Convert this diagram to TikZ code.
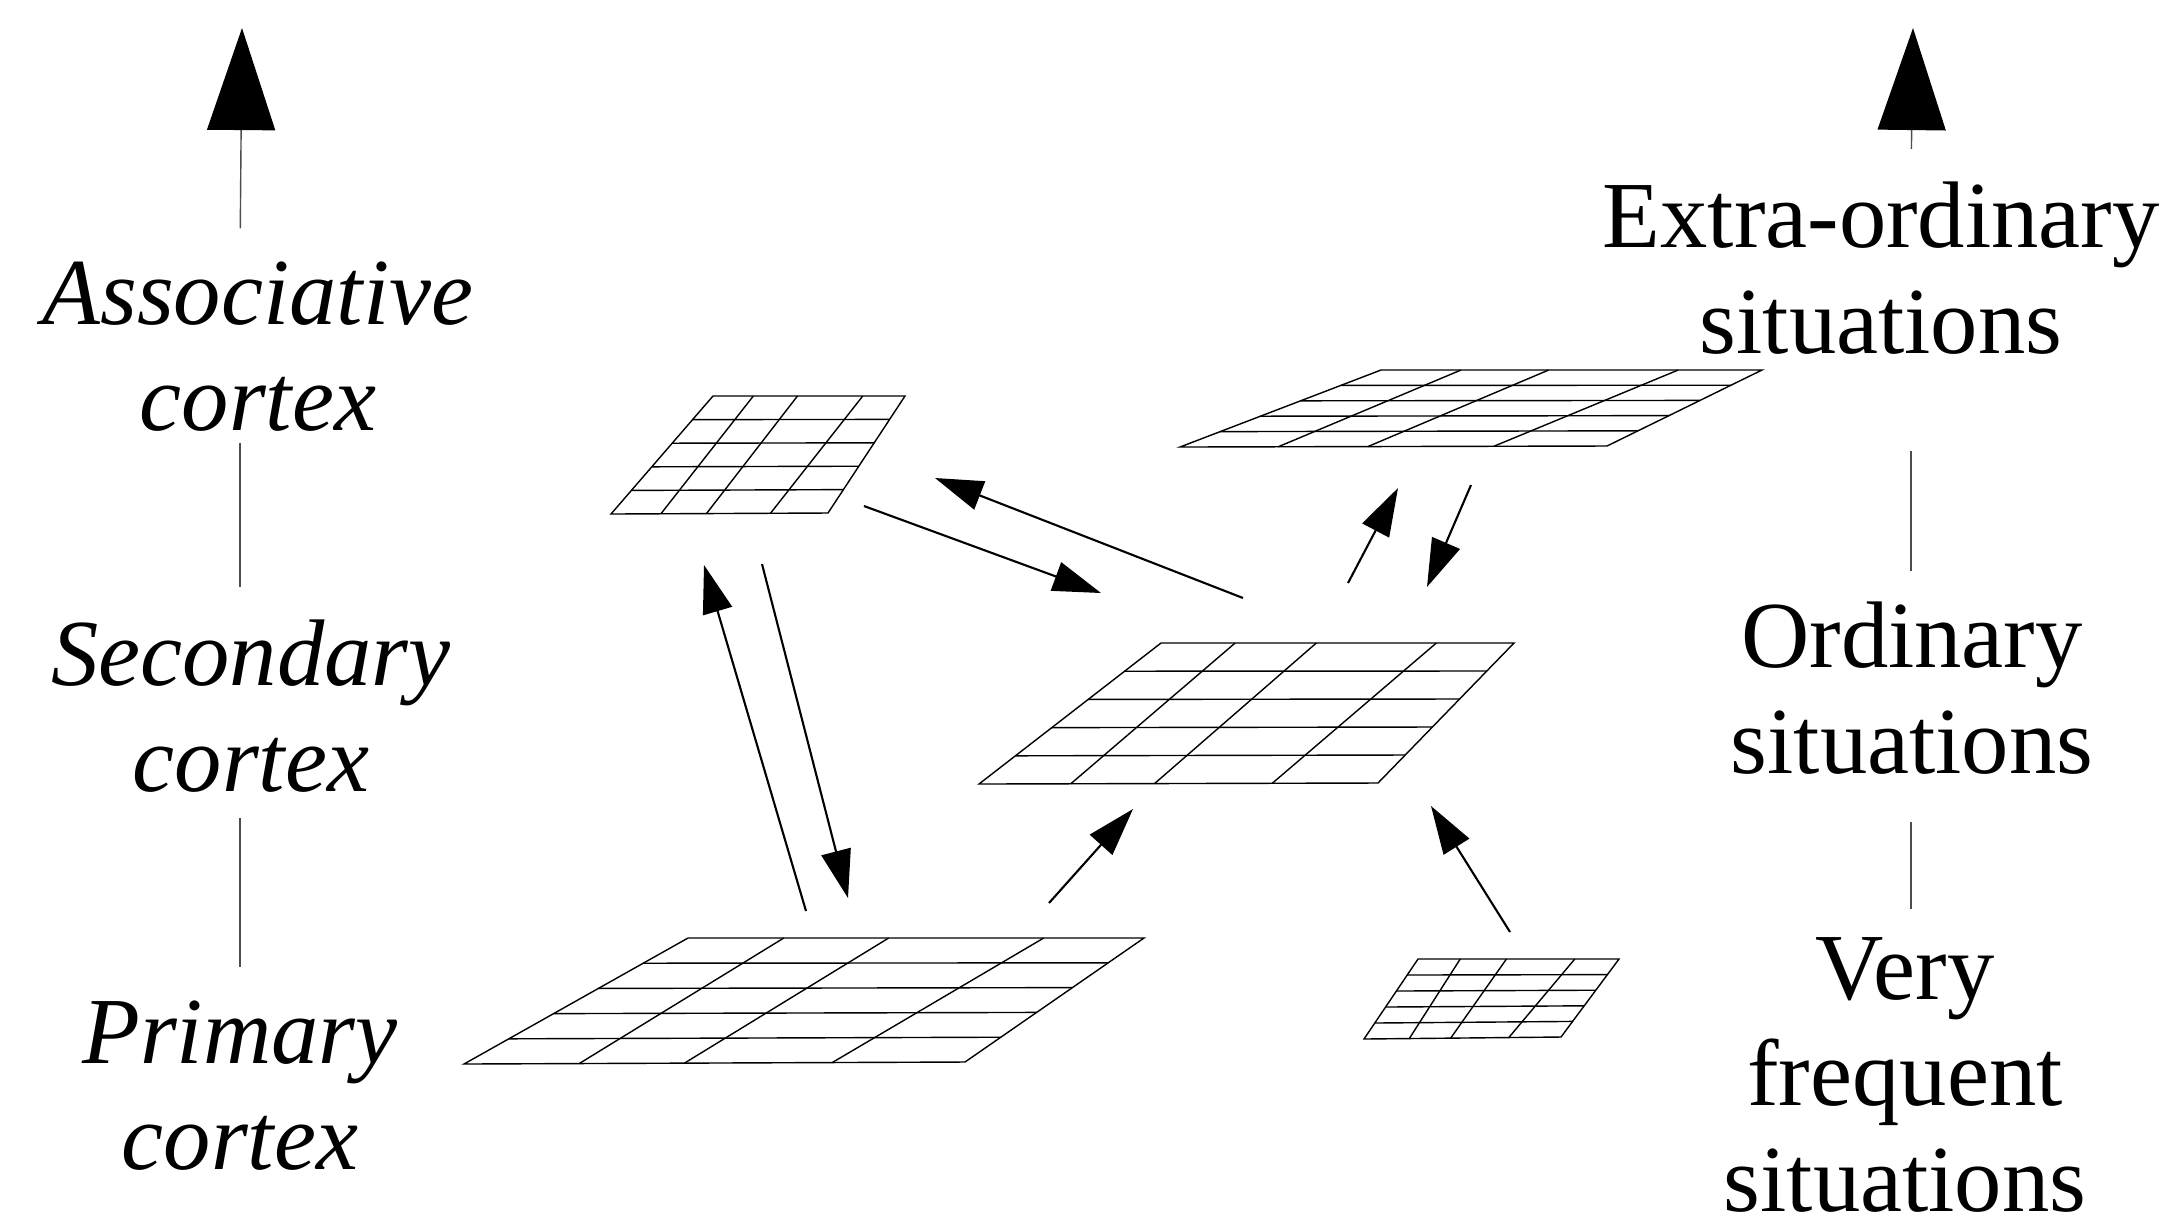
\documentclass[tikz,border=0pt]{standalone}
\usepackage{fontspec}
\setmainfont{Liberation Serif}
\usetikzlibrary{arrows.meta, calc}

% a cortical sheet: corners top left, top right, bottom right, bottom left
\newcommand{\cortexsheet}[4]{%
  \draw[sheet] #1 -- #2 -- #3 -- #4 -- cycle;
  \foreach \r in {0.2,0.4,0.6,0.8}
    \draw[sheet] ($#1!\r!#4$) -- ($#2!\r!#3$);
  \foreach \t/\b in {0.21/0.23, 0.44/0.44, 0.78/0.735}
    \draw[sheet] ($#1!\t!#2$) -- ($#4!\b!#3$);
}

\begin{document}
\begin{tikzpicture}[
  x=0.01cm, y=-0.01cm,
  levelname/.style={align=center, inner sep=0pt, font=\fontsize{26.9}{30.2}\selectfont},
  cortexname/.style={levelname, font=\fontsize{26.9}{30.2}\selectfont\itshape},
  sheet/.style={line width=0.4pt},
  scaleline/.style={draw=black!70, line width=0.4pt},
  bigtip/.style={-{Triangle[length=1.02cm, width=0.68cm, color=black]}},
  link/.style={-{Triangle[length=0.48cm, width=0.3cm]}, line width=0.6pt}
]
\useasboundingbox (0,0) rectangle (2172,1223);

% left scale
\node[cortexname] (assoc) at (258,347) {Associative\\cortex};
\node[cortexname] (second) at (251,706) {Secondary\\cortex};
\node[cortexname] (primary) at (240,1086) {Primary\\cortex};

% right scale
\node[levelname] (extra) at (1881,268) {Extra-ordinary\\situations};
\node[levelname] (ordinary) at (1912,688) {Ordinary\\situations};
\node[levelname] (frequent) at (1905,1075) {Very\\frequent\\situations};

\coordinate (laxis) at (240,0);
\coordinate (raxis) at (1911,0);
\coordinate (ltop) at (242,28);
\coordinate (rtop) at (1913,28);

\draw[scaleline, bigtip, shorten <=0.33cm] (assoc.north -| laxis) -- (ltop);
\draw[scaleline, shorten <=0.1cm, shorten >=0.32cm] (assoc.south -| laxis) -- (second.north -| laxis);
\draw[scaleline, shorten <=0.25cm, shorten >=0.33cm] (second.south -| laxis) -- (primary.north -| laxis);
\draw[scaleline, bigtip, shorten <=0.32cm] (extra.north -| raxis) -- (rtop);
\draw[scaleline, shorten <=0.96cm, shorten >=0.30cm] (extra.south -| raxis) -- (ordinary.north -| raxis);
\draw[scaleline, shorten <=0.47cm, shorten >=0.28cm] (ordinary.south -| raxis) -- (frequent.north -| raxis);

% sheets
\cortexsheet{(713,396)}{(905,396)}{(828,513)}{(611,514)}
\cortexsheet{(1381,370)}{(1762,370)}{(1607,446)}{(1180,447)}
\cortexsheet{(1161,643)}{(1514,643)}{(1378,783)}{(979,784)}
\cortexsheet{(688,938)}{(1144,938)}{(965,1062)}{(464,1064)}
\cortexsheet{(1418,959)}{(1619,959)}{(1561,1037)}{(1364,1039)}

% projections between sheets
\coordinate (ao-s) at (864,506);
\coordinate (ao-e) at (1101,593);
\coordinate (oa-s) at (1243,598);
\coordinate (oa-e) at (935,478);
\coordinate (pa-s) at (806,911);
\coordinate (pa-e) at (704,565);
\coordinate (ap-s) at (762,564);
\coordinate (ap-e) at (848,898);
\coordinate (po-s) at (1049,903);
\coordinate (po-e) at (1133,809);
\coordinate (fo-s) at (1510,932);
\coordinate (fo-e) at (1431,806);
\coordinate (oe-s) at (1348,583);
\coordinate (oe-e) at (1398,488);
\coordinate (eo-s) at (1471,485);
\coordinate (eo-e) at (1427,587);

\draw[link] (ao-s) -- (ao-e);
\draw[link] (oa-s) -- (oa-e);
\draw[link] (pa-s) -- (pa-e);
\draw[link] (ap-s) -- (ap-e);
\draw[link] (po-s) -- (po-e);
\draw[link] (fo-s) -- (fo-e);
\draw[link] (oe-s) -- (oe-e);
\draw[link] (eo-s) -- (eo-e);

\end{tikzpicture}
\end{document}
